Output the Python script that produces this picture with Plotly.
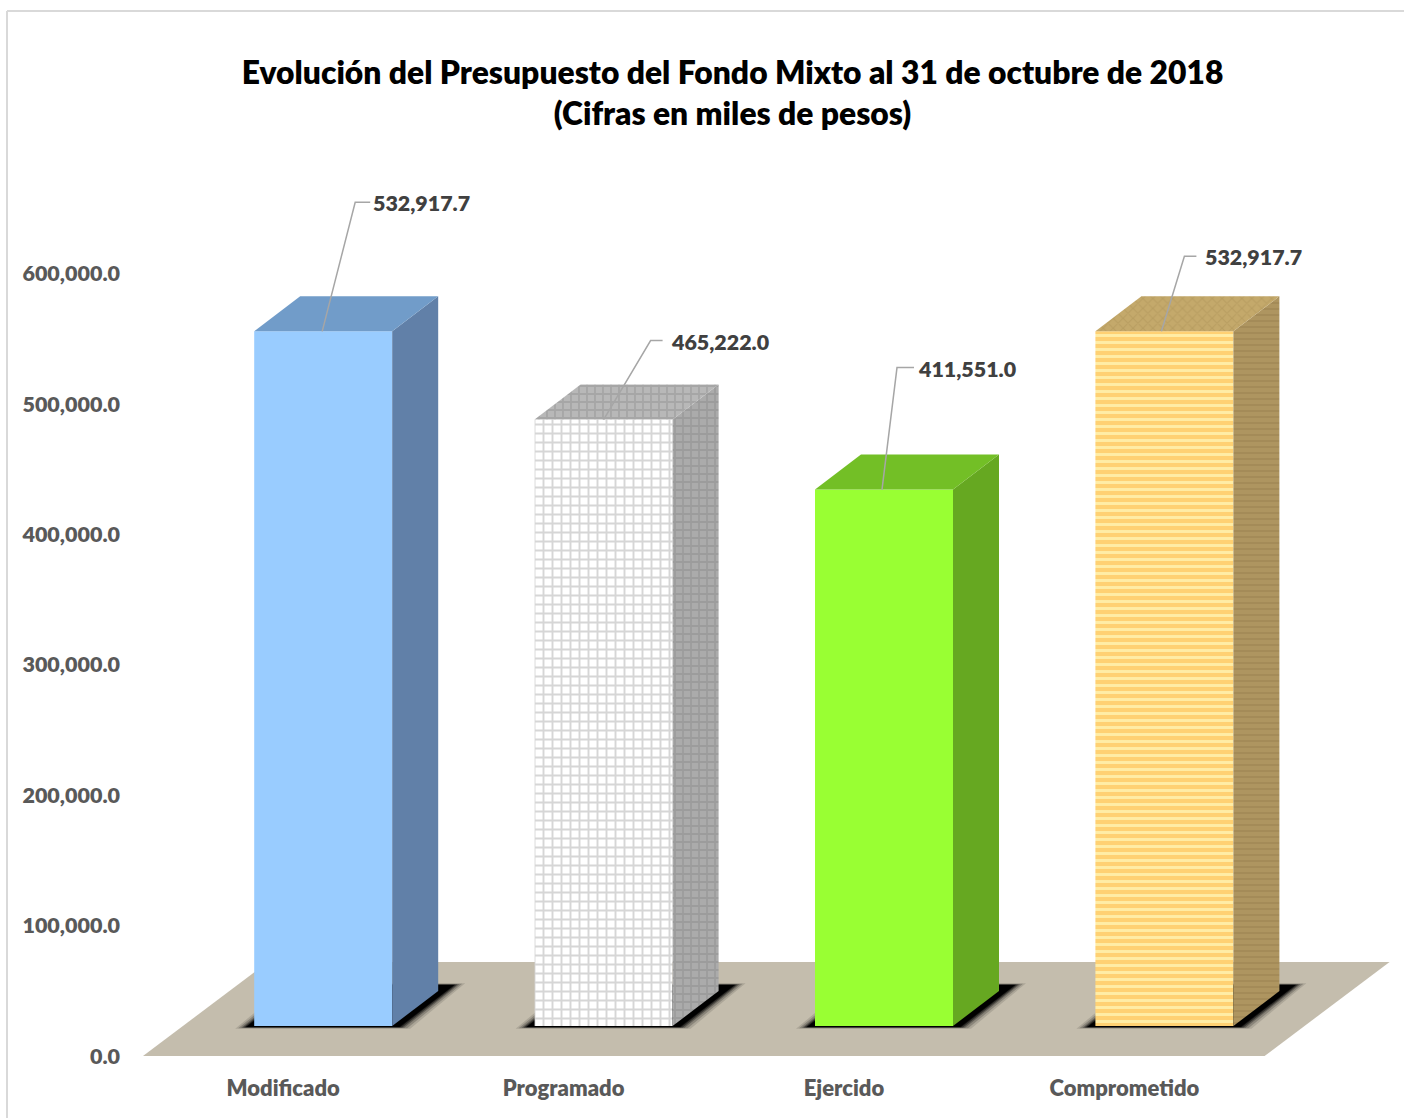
import plotly.graph_objects as go

# ---------- data ----------
categories = ["Modificado", "Programado", "Ejercido", "Comprometido"]
values = [532917.7, 465222.0, 411551.0, 532917.7]
value_labels = ["532,917.7", "465,222.0", "411,551.0", "532,917.7"]
y_ticks = [0, 100000, 200000, 300000, 400000, 500000, 600000]
y_tick_labels = ["0.0", "100,000.0", "200,000.0", "300,000.0", "400,000.0", "500,000.0", "600,000.0"]
title_text = "Evolución del Presupuesto del Fondo Mixto al 31 de octubre de 2018<br>(Cifras en miles de pesos)"

# ---------- style ----------
W, H = 1404, 1118
M_L, M_R, M_T, M_B = 143, 9, 150, 62
PX_PER_X = 280.4          # pixels per category
PX_PER_Y = 130.35 / 1e5   # pixels per value unit
WEIGHT = 800


def dx(px):
    return px / PX_PER_X


def dy(px):
    return px / PX_PER_Y


front_colors = ["#99CCFF", "#FFFFFF", "#99FF33", "#FFD878"]
side_colors = ["#6180A8", "#A6A6A6", "#66A821", "#A98F5C"]
top_colors = ["#719CC9", "#ADADAD", "#73BF26", "#BDA262"]
front_patterns = [None,
                  dict(shape="+", fgcolor="#D6D6D6", bgcolor="#FFFFFF", size=9, solidity=0.38,
                       fillmode="replace", fgopacity=1),
                  None,
                  dict(shape="-", fgcolor="#FFEDA6", bgcolor="#FFD173", size=7, solidity=0.42,
                       fillmode="replace", fgopacity=1)]
side_patterns = [None,
                 dict(shape="+", fgcolor="#8E8E8E", bgcolor="#ABABAB", size=8, solidity=0.4),
                 None,
                 dict(shape="-", fgcolor="#9A8250", bgcolor="#AE9560", size=6, solidity=0.35)]
top_patterns = [None,
                dict(shape="+", fgcolor="#939393", bgcolor="#B8B8B8", size=8, solidity=0.4),
                None,
                dict(shape="x", fgcolor="#AD9357", bgcolor="#C4A96B", size=7, solidity=0.3)]

BAR_W = dx(138)
SHIFT_X, SHIFT_Y = dx(40), dy(30)      # front plane of the bars against the floor's front edge
DEPTH_X, DEPTH_Y = dx(46), dy(35)      # bar depth in the oblique projection
FLOOR_X, FLOOR_Y = dx(125), dy(94)     # floor depth

# leader lines: (elbow dx, elbow dy, end dx, text dx) in pixels from the bar's top front point
leaders = [(33, 129, 48, 49), (47, 79, 59, 65), (15, 122, 32, 34), (23, 75, 35, 42)]
leader_start = [-1, 0, -2, -3]

x_pos = list(range(len(categories)))
bar_x = [i + SHIFT_X for i in x_pos]

fig = go.Figure()

# front faces
for i, v in enumerate(values):
    m = dict(color=front_colors[i], line=dict(width=0))
    if front_patterns[i]:
        m["pattern"] = front_patterns[i]
    fig.add_trace(go.Bar(x=[bar_x[i]], y=[v], base=SHIFT_Y, width=BAR_W, marker=m,
                         hoverinfo="skip", showlegend=False))

# side and top faces
for i, v in enumerate(values):
    l, r = bar_x[i] - BAR_W / 2, bar_x[i] + BAR_W / 2
    t = v + SHIFT_Y
    side = dict(x=[r, r + DEPTH_X, r + DEPTH_X, r, r],
                y=[SHIFT_Y, SHIFT_Y + DEPTH_Y, t + DEPTH_Y, t, SHIFT_Y])
    top = dict(x=[l, r, r + DEPTH_X, l + DEPTH_X, l],
               y=[t, t, t + DEPTH_Y, t + DEPTH_Y, t])
    for face, col, pat in ((side, side_colors[i], side_patterns[i]),
                           (top, top_colors[i], top_patterns[i])):
        kw = dict(fillpattern=pat) if pat else {}
        fig.add_trace(go.Scatter(x=face["x"], y=face["y"], mode="lines", fill="toself",
                                 fillcolor=col, line=dict(width=0), hoverinfo="skip",
                                 showlegend=False, **kw))

# leader lines and value labels
annotations = []
for i, v in enumerate(values):
    ex, ey, endx, tx = leaders[i]
    x0 = bar_x[i] + dx(leader_start[i])
    y0 = v + SHIFT_Y
    fig.add_trace(go.Scatter(
        x=[x0, x0 + dx(ex), x0 + dx(endx)],
        y=[y0, y0 + dy(ey), y0 + dy(ey)],
        mode="lines", line=dict(color="#A6A6A6", width=1.5),
        hoverinfo="skip", showlegend=False))
    annotations.append(dict(x=x0 + dx(tx), y=y0 + dy(ey) - dy(1), xref="x", yref="y",
                            text=value_labels[i], showarrow=False,
                            xanchor="left", yanchor="middle",
                            font=dict(family="Lato", size=21.4, color="#404040", weight=WEIGHT)))

# floor and shadows, below the traces
def poly(pts):
    return "M " + " L ".join(f"{a},{b}" for a, b in pts) + " Z"


n = len(categories)
shapes = [dict(type="path", layer="below", xref="x", yref="y", line=dict(width=0), fillcolor="#C4BDAD",
               path=poly([(-0.5, 0), (n - 0.5, 0), (n - 0.5 + FLOOR_X, FLOOR_Y), (-0.5 + FLOOR_X, FLOOR_Y)]))]
for grow, op in ((11, 0.12), (8, 0.2), (5, 0.3), (3, 0.45), (1, 0.65), (0, 0.95)):
    for i in x_pos:
        l = bar_x[i] - BAR_W / 2 - dx(8 + grow)
        r = bar_x[i] + BAR_W / 2 + dx(7 + grow)
        b = SHIFT_Y - dy(1 + grow * 0.15)
        t = SHIFT_Y + dy(41 + grow * 0.15)
        k = dx(55)
        shapes.append(dict(type="path", layer="below", xref="x", yref="y", line=dict(width=0),
                           fillcolor="#000000", opacity=op,
                           path=poly([(l, b), (r, b), (r + k, t), (l + k, t)])))

# chart border (top and left only)
plot_w, plot_h = W - M_L - M_R, H - M_T - M_B
border_x = (7 - M_L) / plot_w
border_y = (H - M_B - 11) / plot_h
shapes.append(dict(type="line", xref="paper", yref="paper", layer="below",
                   x0=border_x, x1=(W - M_L) / plot_w, y0=border_y, y1=border_y,
                   line=dict(color="#D9D9D9", width=2)))
shapes.append(dict(type="line", xref="paper", yref="paper", layer="below",
                   x0=border_x, x1=border_x, y0=border_y, y1=-M_B / plot_h,
                   line=dict(color="#D9D9D9", width=2)))

fig.update_layout(
    width=W, height=H,
    margin=dict(l=M_L, r=M_R, t=M_T, b=M_B, pad=0),
    paper_bgcolor="#FFFFFF", plot_bgcolor="rgba(0,0,0,0)",
    showlegend=False, barmode="overlay",
    title=dict(text=title_text, x=(732.5 - M_L) / plot_w, xanchor="center", xref="paper",
               y=1 - 84 / H, yanchor="top",
               font=dict(family="Lato", size=31.8, color="#000000", weight=WEIGHT)),
    xaxis=dict(range=[-0.5, -0.5 + plot_w / PX_PER_X], tickmode="array",
               tickvals=x_pos, ticktext=categories,
               showgrid=False, zeroline=False, showline=False, ticks="",
               ticklabelstandoff=17, tickfont=dict(family="Lato", size=22, color="#595959", weight=WEIGHT)),
    yaxis=dict(range=[0, plot_h / PX_PER_Y], tickmode="array",
               tickvals=y_ticks, ticktext=y_tick_labels,
               showgrid=False, zeroline=False, showline=False, ticks="",
               ticklabelstandoff=22, tickfont=dict(family="Lato", size=21.5, color="#595959", weight=WEIGHT)),
    annotations=annotations, shapes=shapes,
)

fig.write_html("out.html", config={"displayModeBar": False},
               post_script="document.body.style.margin='0';")
